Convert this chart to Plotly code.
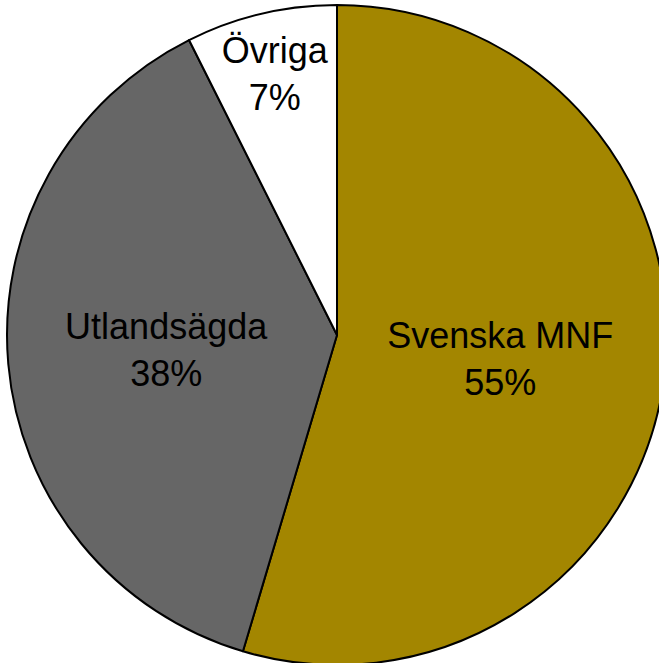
import plotly.graph_objects as go

labels = ["Svenska MNF", "Utlandsägda", "Övriga"]
values = [54.6, 38.0, 7.4]
colors = ["#A38600", "#666666", "#FFFFFF"]

W, H = 676, 672
fig = go.Figure(go.Pie(
    labels=labels,
    values=values,
    sort=False,
    direction="clockwise",
    rotation=0,
    marker=dict(colors=colors, line=dict(color="#000000", width=2)),
    texttemplate="%{label}<br>%{percent:.0%}",
    textposition="inside",
    insidetextorientation="horizontal",
    textfont=dict(family="Liberation Sans, Arial, sans-serif", size=36, color="#000000"),
    hoverinfo="skip",
    domain=dict(x=[7 / W, 667 / W], y=[7 / H, 667 / H]),
))
fig.update_layout(
    width=W, height=H,
    margin=dict(l=0, r=0, t=0, b=0),
    showlegend=False,
    paper_bgcolor="#FFFFFF",
    uniformtext=dict(minsize=36, mode="show"),
)
fig.write_html(
    "out.html",
    config={"displayModeBar": False},
    post_script="document.body.style.margin='0';document.body.style.overflow='hidden';document.documentElement.style.overflow='hidden';",
)
